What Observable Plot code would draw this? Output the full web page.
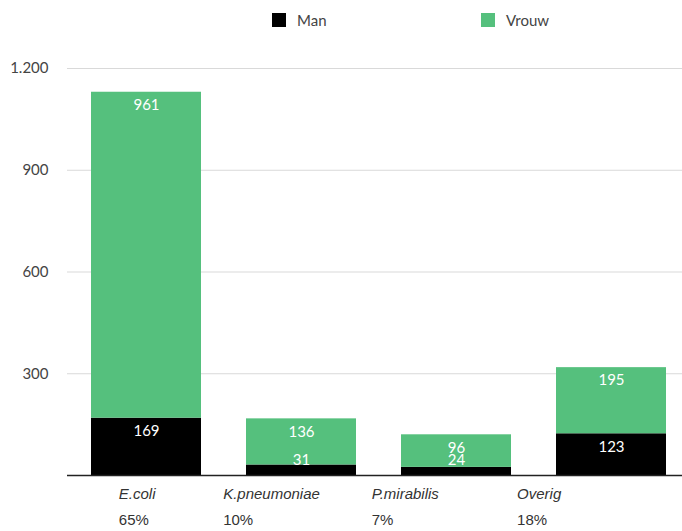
<!DOCTYPE html>
<html>
<head>
<meta charset="utf-8">
<script src="https://cdn.jsdelivr.net/npm/d3@7"></script>
<script src="https://cdn.jsdelivr.net/npm/@observablehq/plot@0.6"></script>
<style>
  html, body { margin: 0; padding: 0; background: #fff; }
  svg { display: block; }
  #legend { position: relative; height: 40px; width: 682px; font: 15px Lato, sans-serif; color: #444; }
  #legend .sw { position: absolute; top: 13px; width: 14px; height: 14px; }
  #legend .lb { position: absolute; top: 10px; line-height: 20px; }
  #wrap { position: relative; width: 682px; height: 491px; }
  #labels { position: absolute; left: 0; top: 437px; }
</style>
</head>
<body>
<div id="legend"></div>
<div id="wrap"><div id="chart"></div><div id="labels"></div></div>
<script>
const categories = ["E.coli", "K.pneumoniae", "P.mirabilis", "Overig"];
const shares = ["65%", "10%", "7%", "18%"];
const man = [169, 31, 24, 123];
const vrouw = [961, 136, 96, 195];
const sexes = ["Man", "Vrouw"];
const sexColors = ["#000000", "#55c07d"];
const yTicks = [300, 600, 900, 1200];

const H = 491, MT = 28, MB = 56, YMAX = 1200;
const unitsPerPx = YMAX / (H - MT - MB);
const labelInsetPx = 13;   // label centre below segment top
const labelMinPx = 15;     // label centre at least this far above segment bottom

const rows = categories.flatMap((c, i) => [
  {category: c, sex: "Man", value: man[i], lo: 0, hi: man[i]},
  {category: c, sex: "Vrouw", value: vrouw[i], lo: man[i], hi: man[i] + vrouw[i]}
]);
const labelY = d => Math.max(d.hi - labelInsetPx * unitsPerPx, d.lo + labelMinPx * unitsPerPx);

// Legend
const legend = document.getElementById("legend");
const legendPos = [[272, 297], [481, 506]];
sexes.forEach((s, i) => {
  const sw = document.createElement("span");
  sw.className = "sw";
  sw.style.left = legendPos[i][0] + "px";
  sw.style.background = sexColors[i];
  const lb = document.createElement("span");
  lb.className = "lb";
  lb.style.left = legendPos[i][1] + "px";
  lb.textContent = s;
  legend.append(sw, lb);
});

const nl = d3.formatLocale({decimal: ",", thousands: ".", grouping: [3], currency: ["€", ""]});
const fmt = nl.format(",");

const chart = Plot.plot({
  width: 682,
  height: H,
  marginTop: MT,
  marginBottom: MB,
  marginLeft: 67,
  marginRight: 0,
  style: {fontFamily: "Lato, sans-serif", fontSize: "15px", color: "#444", background: "#fff"},
  x: {type: "band", domain: categories, paddingInner: 0.292, paddingOuter: 0.1256, align: 0.59, axis: null},
  y: {domain: [0, YMAX], axis: null},
  color: {domain: sexes, range: sexColors},
  marks: [
    Plot.gridY(yTicks, {stroke: "#d9d9d9", strokeOpacity: 1, strokeWidth: 1}),
    Plot.axisY(yTicks, {tickSize: 0, tickPadding: 19, tickFormat: fmt, label: null, fontSize: 15, fill: "#444"}),
    Plot.barY(rows, {x: "category", y1: "lo", y2: "hi", fill: "sex"}),
    Plot.text(rows, {x: "category", y: labelY, text: d => String(d.value), fill: "white", fontSize: 15, fontFamily: "Lato, sans-serif"}),
    Plot.ruleY([0], {stroke: "#222", strokeWidth: 1.5})
  ]
});
document.getElementById("chart").append(chart);

const labelPlot = Plot.plot({
  width: 682,
  height: 54,
  marginTop: 0,
  marginBottom: 0,
  marginLeft: 69,
  marginRight: 75,
  style: {fontFamily: "'Liberation Sans', Arial, sans-serif", fontSize: "15px", background: "transparent", overflow: "visible"},
  x: {type: "band", domain: categories, padding: 0, axis: null},
  marks: [
    Plot.text(categories, {x: d => d, text: d => d, frameAnchor: "top", lineAnchor: "middle", dy: 17, textAnchor: "start", fontStyle: "italic", fill: "#333", fontSize: 15}),
    Plot.text(categories, {x: d => d, text: (d, i) => shares[i], frameAnchor: "top", lineAnchor: "middle", dy: 43, textAnchor: "start", fill: "#333", fontSize: 15})
  ]
});
document.getElementById("labels").append(labelPlot);

// centre each two-line label block on its position (lines left-aligned)
const groups = labelPlot.querySelectorAll('g[aria-label="text"]');
if (groups.length === 2) {
  const a = groups[0].querySelectorAll("text");
  const b = groups[1].querySelectorAll("text");
  for (let i = 0; i < a.length; i++) {
    const w = Math.max(a[i].getBBox().width, b[i].getBBox().width);
    [a[i], b[i]].forEach(el => {
      el.setAttribute("transform", (el.getAttribute("transform") || "") + ` translate(${-w / 2},0)`);
    });
  }
}
</script>
</body>
</html>
